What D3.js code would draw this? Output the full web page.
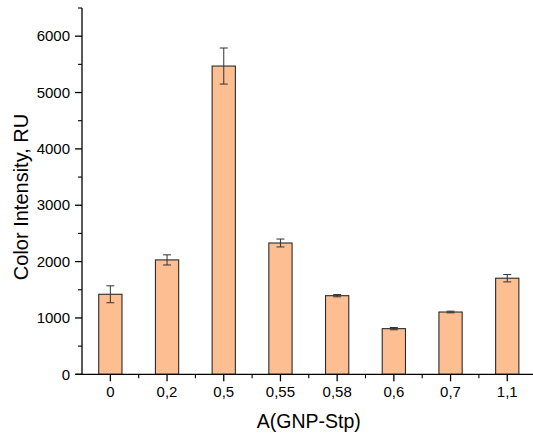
<!DOCTYPE html>
<html><head><meta charset="utf-8">
<script src="https://cdn.jsdelivr.net/npm/d3@7"></script>
<style>body{margin:0;background:#fff}svg{display:block}text{font-family:"Liberation Sans",Arial,sans-serif;fill:#000}</style>
</head><body>
<svg id="c" width="533" height="439"></svg>
<script>
const categories = ["0","0,2","0,5","0,55","0,58","0,6","0,7","1,1"];
const values = [1420, 2030, 5470, 2330, 1395, 810, 1105, 1705];
const errors = [150, 90, 320, 70, 20, 20, 15, 65];
const yTicks = [0,1000,2000,3000,4000,5000,6000];
const yMinor = [500,1500,2500,3500,4500,5500,6500];

const svg = d3.select("#c");
const x0 = 82, yBottom = 374.3, yTop = 8, step = 56.7;
const x = d3.scaleBand().domain(categories).range([x0, x0 + step*categories.length]).padding(0);
const y = d3.scaleLinear().domain([0, 6500]).range([yBottom, yTop]);
const bw = step * 0.41;

// bars
svg.append("g").selectAll("rect").data(values).join("rect")
  .attr("x", (d,i)=> x(categories[i]) + x.bandwidth()/2 - bw/2)
  .attr("y", d=> y(d))
  .attr("width", bw)
  .attr("height", d=> yBottom - y(d))
  .attr("fill", "#FDBF92")
  .attr("stroke", "#2b2b2b")
  .attr("stroke-width", 1.1);

// error bars
const eg = svg.append("g").attr("stroke","#333").attr("stroke-width",1);
values.forEach((v,i)=>{
  const cx = x(categories[i]) + x.bandwidth()/2;
  eg.append("line").attr("x1",cx).attr("x2",cx).attr("y1",y(v+errors[i])).attr("y2",y(v-errors[i]));
  [v+errors[i], v-errors[i]].forEach(e=>{
    eg.append("line").attr("x1",cx-4).attr("x2",cx+4).attr("y1",y(e)).attr("y2",y(e));
  });
});

// y axis
const yAxis = svg.append("g").attr("transform",`translate(${x0},0)`);
yAxis.append("line").attr("x1",0).attr("x2",0).attr("y1",yTop).attr("y2",yBottom).attr("stroke","#000").attr("stroke-width",1.3);
yTicks.forEach(t=>{
  yAxis.append("line").attr("x1",-7).attr("x2",0).attr("y1",y(t)).attr("y2",y(t)).attr("stroke","#000").attr("stroke-width",1.3);
  yAxis.append("text").attr("x",-12).attr("y",y(t)).attr("dy","0.35em").attr("text-anchor","end").attr("font-size",15).text(t);
});
yMinor.forEach(t=>{
  yAxis.append("line").attr("x1",-4).attr("x2",0).attr("y1",y(t)).attr("y2",y(t)).attr("stroke","#000").attr("stroke-width",1.1);
});

// x axis
const xAxis = svg.append("g").attr("transform",`translate(0,${yBottom})`);
xAxis.append("line").attr("x1",x0-6).attr("x2",x0+step*categories.length).attr("y1",0).attr("y2",0).attr("stroke","#000").attr("stroke-width",1.3);
categories.forEach((c,i)=>{
  const cx = x(c) + x.bandwidth()/2;
  xAxis.append("line").attr("x1",cx).attr("x2",cx).attr("y1",0).attr("y2",7).attr("stroke","#000").attr("stroke-width",1.3);
  xAxis.append("text").attr("x",cx).attr("y",23).attr("text-anchor","middle").attr("font-size",15).text(c);
  const bx = x(c) + x.bandwidth();
  xAxis.append("line").attr("x1",bx).attr("x2",bx).attr("y1",0).attr("y2",4).attr("stroke","#000").attr("stroke-width",1.1);
});

// titles
svg.append("text").attr("x", x0 + step*categories.length/2).attr("y",428).attr("text-anchor","middle").attr("font-size",19.5).text("A(GNP-Stp)");
svg.append("text").attr("transform",`translate(28,197) rotate(-90)`).attr("text-anchor","middle").attr("font-size",20).text("Color Intensity, RU");
</script>
</body></html>
